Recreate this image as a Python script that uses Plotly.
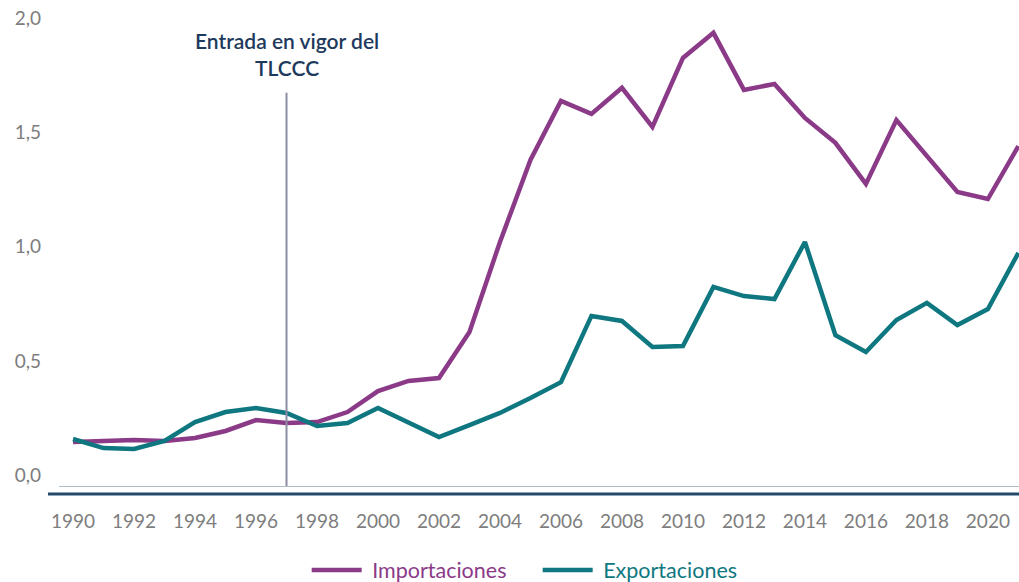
import plotly.graph_objects as go

anos = list(range(1990, 2022))

importaciones = [0.145, 0.149, 0.153, 0.149, 0.162, 0.193, 0.241, 0.228, 0.232, 0.276,
                 0.368, 0.412, 0.425, 0.627, 1.021, 1.380, 1.639, 1.582, 1.696, 1.525,
                 1.827, 1.937, 1.687, 1.713, 1.564, 1.455, 1.275, 1.555, 1.398, 1.240,
                 1.209, 1.441]

exportaciones = [0.158, 0.118, 0.114, 0.149, 0.232, 0.276, 0.294, 0.272, 0.215, 0.228,
                 0.294, 0.232, 0.166, 0.219, 0.272, 0.337, 0.407, 0.697, 0.675, 0.561,
                 0.565, 0.824, 0.784, 0.771, 1.021, 0.613, 0.539, 0.679, 0.754, 0.657,
                 0.727, 0.973]

y_ticks = [0, 0.5, 1.0, 1.5, 2.0]
y_labels = ['0,0', '0,5', '1,0', '1,5', '2,0']
x_ticks = list(range(1990, 2021, 2))

ano_tlccc = 1997

morado = '#8b3a88'
verde = '#0f7780'
azul = '#1d3a5c'
gris = '#7d7d7d'

fig = go.Figure()

fig.add_trace(go.Scatter(
    x=anos, y=importaciones, mode='lines',
    name=f"<span style='color:{morado}'>&nbsp;Importaciones</span>",
    line=dict(color=morado, width=4.5)
))
fig.add_trace(go.Scatter(
    x=anos, y=exportaciones, mode='lines',
    name=f"<span style='color:{verde}'>&nbsp;Exportaciones</span>",
    line=dict(color=verde, width=4.5)
))

# linea vertical del tratado
fig.add_shape(type='line', xref='x', yref='y', x0=ano_tlccc, x1=ano_tlccc,
              y0=-0.048, y1=1.674, line=dict(color='#8c8ca3', width=2))
fig.add_annotation(x=ano_tlccc, y=1.845, xref='x', yref='y', yanchor='middle',
                   text='Entrada en vigor del<br>TLCCC', showarrow=False,
                   font=dict(size=21, color=azul, weight=600), align='center')

# linea gruesa bajo el eje
fig.add_shape(type='line', xref='paper', yref='paper', x0=-0.0115, x1=1,
              y0=-0.0168, y1=-0.0168, line=dict(color='#244a6b', width=3))

fig.update_layout(
    width=1019, height=582,
    margin=dict(l=59, r=0, t=10, b=96, autoexpand=False),
    paper_bgcolor='white', plot_bgcolor='white',
    font=dict(family='Lato', color=gris),
    showlegend=True,
    legend=dict(orientation='h', x=0.258, xanchor='left', yref='container',
                y=12 / 582, yanchor='middle', font=dict(size=21.5),
                itemwidth=50, entrywidth=166, tracegroupgap=0),
    xaxis=dict(range=[1989.54, 2021.02], tickmode='array', tickvals=x_ticks,
               showgrid=False, zeroline=False, showline=True, linecolor='#aebccb',
               linewidth=1, ticks='', tickfont=dict(size=19, color=gris),
               ticklabelstandoff=18, automargin=False),
    yaxis=dict(range=[-0.048, 2.037], tickmode='array', tickvals=y_ticks,
               ticktext=y_labels, showgrid=False, zeroline=False, showline=False,
               ticks='', tickfont=dict(size=19, color=gris), ticklabelstandoff=17,
               automargin=False),
)

# quitar el margen por defecto del body
fig.write_html("out.html", config={'displayModeBar': False},
               post_script="document.body.style.margin='0px';")
